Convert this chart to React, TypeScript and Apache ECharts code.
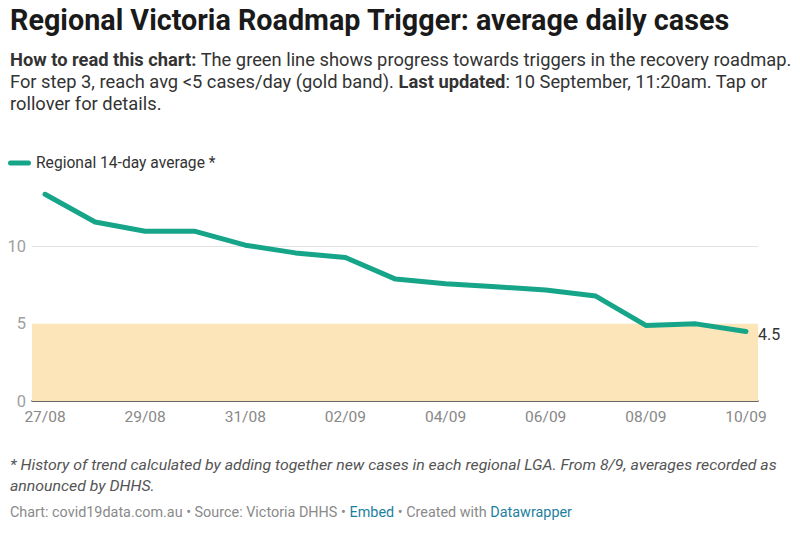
import React, { useEffect, useRef } from "react";
import * as echarts from "echarts";

const dates = ["27/08", "28/08", "29/08", "30/08", "31/08", "01/09", "02/09", "03/09", "04/09", "05/09", "06/09", "07/09", "08/09", "09/09", "10/09"];
const averages = [13.4, 11.6, 11.0, 11.0, 10.1, 9.6, 9.3, 7.9, 7.6, 7.4, 7.2, 6.8, 4.9, 5.0, 4.5];
const labelDays = [0, 2, 4, 6, 8, 10, 12, 14];
const yTicks = [0, 5, 10];
const bandMax = 5;
const seriesName = "Regional 14-day average *";

const titleText = "Regional Victoria Roadmap Trigger: average daily cases";
const introLines: [string, boolean][][] = [
  [["How to read this chart:", true], [" The green line shows progress towards triggers in the recovery roadmap.", false]],
  [["For step 3, reach avg <5 cases/day (gold band). ", false], ["Last updated", true], [": 10 September, 11:20am. Tap or", false]],
  [["rollover for details.", false]],
];
const notesLines = [
  "* History of trend calculated by adding together new cases in each regional LGA. From 8/9, averages recorded as",
  "announced by DHHS.",
];
const sourceSegs: [string, string][] = [
  ["Chart: covid19data.com.au • Source: Victoria DHHS • ", "#8a8a8a"],
  ["Embed", "#1d7fa0"],
  [" • Created with ", "#8a8a8a"],
  ["Datawrapper", "#1d7fa0"],
];

const FONT = "Roboto";
const LINE = "#17a589";

export default function App() {
  const ref = useRef<HTMLDivElement>(null);
  useEffect(() => {
    if (!ref.current) return;
    const chart = echarts.init(ref.current, null, { renderer: "svg" });
    const ctx = document.createElement("canvas").getContext("2d")!;
    const measure = (t: string, size: number, weight = "normal", style = "normal") => {
      ctx.font = `${style} ${weight} ${size}px ${FONT}`;
      return ctx.measureText(t).width;
    };
    const graphics: any[] = [];
    const addLine = (segs: { t: string; w?: string; s?: string; c: string }[], x: number, y: number, size: number, scale: number) => {
      let cx = x;
      segs.forEach((sg) => {
        graphics.push({
          type: "text",
          x: cx,
          y,
          scaleX: scale,
          silent: true,
          style: {
            text: sg.t,
            fontFamily: FONT,
            fontSize: size,
            fontWeight: sg.w || "normal",
            fontStyle: sg.s || "normal",
            fill: sg.c,
            verticalAlign: "middle",
            align: "left",
          },
        });
        cx += measure(sg.t, size, sg.w || "normal", sg.s || "normal") * scale;
      });
    };

    // title
    const tSize = 29;
    const tScale = 720 / measure(titleText, tSize, "bold");
    addLine([{ t: titleText, w: "bold", c: "#1a1a1a" }], 10, 20, tSize, tScale);

    // intro
    const iSize = 18;
    const l1w = introLines[0].reduce((a, [t, b]) => a + measure(t, iSize, b ? "bold" : "normal"), 0);
    const iScale = 782 / l1w;
    const iY = [60, 82, 103.5];
    introLines.forEach((line, i) => {
      addLine(line.map(([t, b]) => ({ t, w: b ? "bold" : "normal", c: "#333" })), 10, iY[i], iSize, iScale);
    });

    // notes
    const nSize = 15.5;
    const nScale = 768 / measure(notesLines[0], nSize, "normal", "italic");
    const nY = [465, 486];
    notesLines.forEach((t, i) => addLine([{ t, s: "italic", c: "#555" }], 10, nY[i], nSize, nScale));

    // source
    const sSize = 14;
    const sw = sourceSegs.reduce((a, [t]) => a + measure(t, sSize), 0);
    const sScale = 562 / sw;
    addLine(sourceSegs.map(([t, c]) => ({ t, c })), 10, 512, sSize, sScale);

    chart.setOption({
      animation: false,
      backgroundColor: "#fff",
      textStyle: { fontFamily: FONT },
      graphic: graphics,
      legend: {
        left: 8,
        top: 155,
        padding: 0,
        itemWidth: 23,
        itemHeight: 5,
        icon: "path://M2.5,0 H20.5 A2.5,2.5 0 0 1 20.5,5 H2.5 A2.5,2.5 0 0 1 2.5,0 Z",
        textStyle: { fontSize: 15.6, color: "#333", fontFamily: FONT },
        data: [seriesName],
        selectedMode: false,
      },
      grid: { left: 32, right: 42, top: 185, bottom: 144, containLabel: false },
      xAxis: {
        type: "value",
        min: -0.26,
        max: 14.24,
        axisLine: { show: true, lineStyle: { color: "#333", width: 1.5 } },
        axisTick: { show: false },
        splitLine: { show: false },
        axisLabel: {
          customValues: labelDays,
          formatter: (v: number) => dates[Math.round(v)] ?? "",
          color: "#888",
          fontSize: 15.5,
          margin: 8,
          fontFamily: FONT,
        },
      },
      yAxis: {
        type: "value",
        min: 0,
        max: 14,
        axisLine: { show: false },
        axisTick: { show: false },
        splitLine: { show: false },
        axisLabel: {
          customValues: yTicks,
          formatter: (v: number) => String(v),
          color: "#a0a0a0",
          fontSize: 16.5,
          margin: 6,
          fontFamily: FONT,
        },
      },
      series: [
        {
          name: seriesName,
          type: "line",
          data: averages.map((v, i) => [i, v]),
          symbol: "none",
          color: LINE,
          lineStyle: { color: LINE, width: 5, cap: "round", join: "round" },
          z: 3,
          endLabel: {
            show: true,
            formatter: (p: any) => String(p.value[1]),
            color: "#333",
            fontSize: 16,
            distance: 12,
            offset: [0, 3],
          },
          markArea: {
            silent: true,
            itemStyle: { color: "#fce5b9", opacity: 1 },
            data: [[{ yAxis: 0 }, { yAxis: bandMax }]],
          },
          markLine: {
            silent: true,
            symbol: "none",
            z: 1,
            label: { show: false },
            lineStyle: { color: "#e2e2e2", width: 1, type: "solid" },
            data: [{ yAxis: 10 }],
          },
        },
      ],
    });
    return () => chart.dispose();
  }, []);
  return <div ref={ref} style={{ position: "absolute", left: 0, top: 0, width: 800, height: 545 }} />;
}
